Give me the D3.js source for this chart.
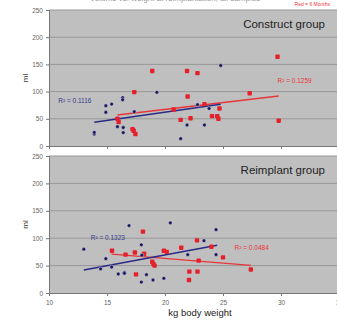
<!DOCTYPE html>
<html>
<head>
<meta charset="utf-8">
<script src="https://d3js.org/d3.v7.min.js"></script>
<style>
body { margin: 0; background: #fff; }
svg { display: block; font-family: "Liberation Sans", Arial, sans-serif; }
</style>
</head>
<body>
<svg width="337" height="322"></svg>
<script>
// kg body weight, ml
var topBlue = [[13.9,22],[13.9,25],[14.9,74],[15.4,77],[14.9,62],[16.35,89],[16.35,85],
    [17.35,63],[15.9,35.5],[16.4,34],[16.4,24.6],[19.3,98.6],[24.8,148],[22.8,76],
    [23.8,69],[21.9,38.6],[23.4,38.6],[21.35,13.5]];
var topRed = [[18.9,138],[17.35,99],[15.9,50],[16.0,44],[17.2,31],[17.3,28],[17.45,22],
    [29.7,164],[21.9,138],[22.8,134],[27.3,97],[21.95,91],[23.4,77],[20.75,67],[24.7,69],
    [21.35,48],[22.2,51],[24.05,55],[24.5,55],[24.6,50],[29.8,46.5]];
var botBlue = [[13,80],[14.9,62.6],[14.45,44],[15.4,47.4],[15.97,34.7],[16.5,37.8],[16.5,36],
    [16.9,123],[17.96,88],[18.0,69],[17.96,20],[18.4,33.4],[18.97,23.7],[19.9,26.8],
    [20.46,128],[21.96,70],[23.36,95.4],[24.4,115.5],[24.4,70]];
var botRed = [[15.43,77.2],[16.6,70],[17.4,74],[18.1,112],[18.2,71.7],[17.5,34],
    [18.9,57],[19.0,53],[19.1,50],[19.9,77],[20.15,75],[21.4,82.7],[22.1,39],[22.07,23.7],
    [22.76,96],[22.8,39],[22.9,59],[24.0,84.5],[25,65],[27.4,43]];

// trendline ends
var topBlueTrend = [[13.9,43.6],[24.8,76.6]];
var topRedTrend = [[15.9,57],[29.8,92]];
var botBlueTrend = [[13,42],[24.5,87]];
var botRedTrend = [[15.4,71],[27.4,50.5]];

var yTicks = [0,50,100,150,200,250];
var xTicks = [10,15,20,25,30,35];

var svg = d3.select("svg");
var x = d3.scaleLinear().domain([10,35]).range([49,339]);

function drawPanel(y, blue, red, blueTrend, redTrend, name, r2Blue, r2Red, showX){
    var g = svg.append("g");
    g.append("rect")
        .attr("x", x(10)).attr("y", y(250))
        .attr("width", x(35) - x(10)).attr("height", y(0) - y(250))
        .attr("fill", "#bfbfbf");
    g.selectAll("line.grid").data(yTicks.slice(1)).enter().append("line")
        .attr("x1", x(10)).attr("x2", x(35))
        .attr("y1", function(d){ return y(d); }).attr("y2", function(d){ return y(d); })
        .attr("stroke", "#999").attr("stroke-width", 1);

    var ya = d3.axisLeft(y).tickValues(yTicks).tickSize(3).tickPadding(3);
    var yg = g.append("g").attr("transform", "translate(" + x(10) + ",0)").call(ya);
    var xa = d3.axisBottom(x).tickValues(xTicks).tickSize(3).tickPadding(4);
    if(!showX) xa.tickFormat("");
    var xg = g.append("g").attr("transform", "translate(0," + y(0) + ")").call(xa);
    [yg, xg].forEach(function(a){
        a.select(".domain").attr("stroke", "#777");
        a.selectAll(".tick line").attr("stroke", "#777");
        a.selectAll("text").attr("fill", "#666").attr("font-size", 6.5)
            .attr("font-family", "Liberation Sans, Arial, sans-serif");
    });

    var line = d3.line().x(function(d){ return x(d[0]); }).y(function(d){ return y(d[1]); });
    g.append("path").datum(redTrend).attr("d", line)
        .attr("stroke", "#e8353a").attr("stroke-width", 1.4).attr("fill", "none");
    g.append("path").datum(blueTrend).attr("d", line)
        .attr("stroke", "#2b2a85").attr("stroke-width", 1.6).attr("fill", "none");

    g.selectAll("rect.red").data(red).enter().append("rect")
        .attr("x", function(d){ return x(d[0]) - 2.2; })
        .attr("y", function(d){ return y(d[1]) - 2.2; })
        .attr("width", 4.4).attr("height", 4.4).attr("rx", 0.8)
        .attr("fill", "#e5202b");
    g.selectAll("circle.blue").data(blue).enter().append("circle")
        .attr("cx", function(d){ return x(d[0]); })
        .attr("cy", function(d){ return y(d[1]); })
        .attr("r", 1.9)
        .attr("fill", "#1b1a5e").attr("stroke", "#d8d8e4").attr("stroke-width", 0.5);

    g.append("text").attr("x", 325).attr("y", y(250) + 18)
        .attr("text-anchor", "end").attr("font-size", 11.5).attr("fill", "#222")
        .text(name);
    g.append("text").attr("x", x(r2Blue[0])).attr("y", y(r2Blue[1]))
        .attr("font-size", 6.5).attr("fill", "#3a3a90")
        .text("R\u00b2 = " + r2Blue[2]);
    g.append("text").attr("x", x(r2Red[0])).attr("y", y(r2Red[1]))
        .attr("font-size", 6.5).attr("fill", "#e8353a")
        .text("R\u00b2 = " + r2Red[2]);

    g.append("text")
        .attr("transform", "translate(28," + y(125) + ") rotate(-90)")
        .attr("text-anchor", "middle").attr("font-size", 8).attr("fill", "#333")
        .text("ml");
}

var yTop = d3.scaleLinear().domain([0,250]).range([146,10]);
var yBot = d3.scaleLinear().domain([0,250]).range([293,156]);

drawPanel(yTop, topBlue, topRed, topBlueTrend, topRedTrend, "Construct group",
    [10.8, 79, "0.1116"], [29.7, 116, "0.1259"], false);
drawPanel(yBot, botBlue, botRed, botBlueTrend, botRedTrend, "Reimplant group",
    [13.6, 97, "0.1323"], [26.0, 78, "0.0484"], true);

svg.append("text").attr("x", 200).attr("y", 316)
    .attr("text-anchor", "middle").attr("font-size", 9.5).attr("fill", "#222")
    .text("kg body weight");
svg.append("text").attr("x", 175).attr("y", 1)
    .attr("text-anchor", "middle").attr("font-size", 8).attr("fill", "#999")
    .text("Volume vs. weight at reimplantation, all samples");
svg.append("text").attr("x", 330).attr("y", 6)
    .attr("text-anchor", "end").attr("font-size", 5).attr("fill", "#e8353a")
    .text("Red = 6 Months");
</script>
</body>
</html>
